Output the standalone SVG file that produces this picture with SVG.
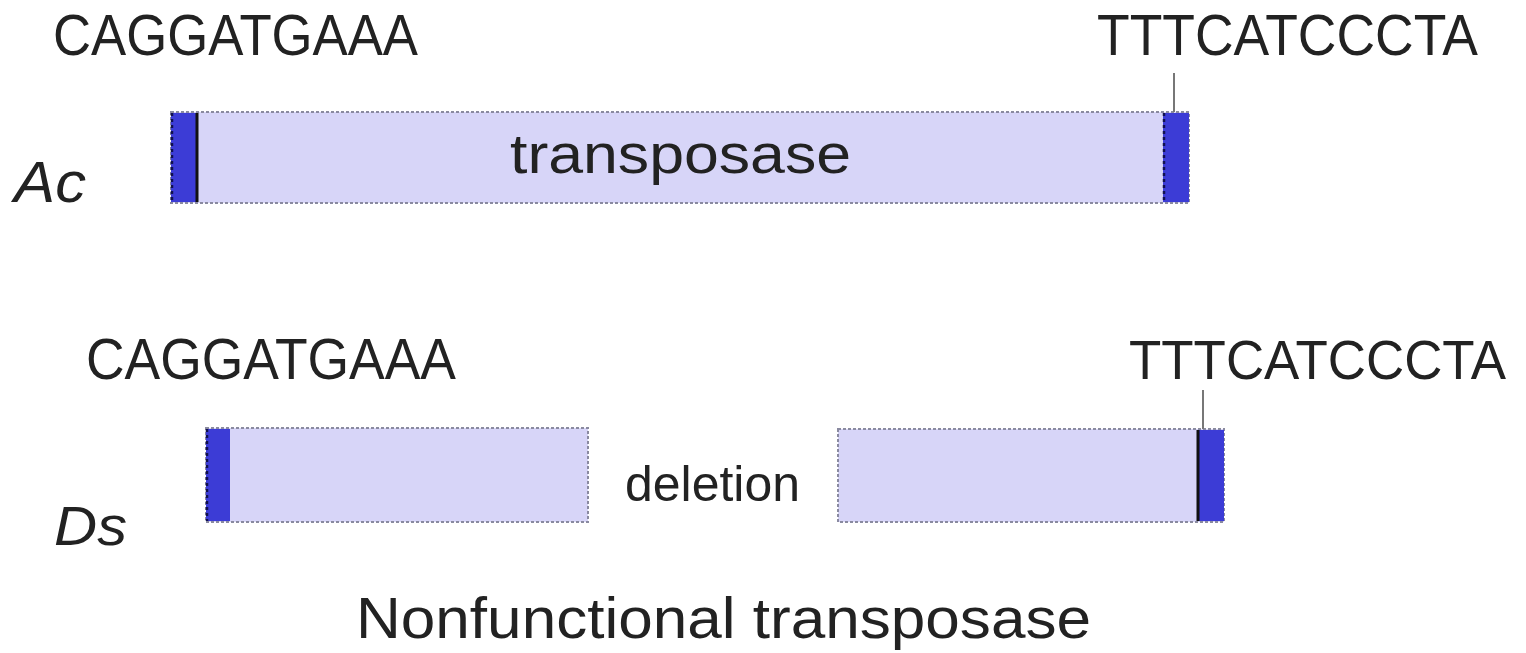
<svg xmlns="http://www.w3.org/2000/svg" width="1526" height="653" viewBox="0 0 1526 653">
<style>
.t{font-family:"Liberation Sans",Arial,sans-serif;fill:#222}
.i{font-style:italic}
.box{fill:#d7d5f8;stroke:#8a8aa0;stroke-width:2;stroke-dasharray:3 2}
.ter{fill:#3c3cd6}
.edge{stroke:#101050;stroke-width:2.5;stroke-dasharray:3 3}
.solid{stroke:#111;stroke-width:3}
.tick{stroke:#777;stroke-width:2}
</style>
<rect width="1526" height="653" fill="#fff"/>
<g id="Ac">
<text class="t i" x="14" y="202" font-size="58" textLength="72" lengthAdjust="spacingAndGlyphs">Ac</text>
<rect class="box" x="171" y="112" width="1018" height="91"/>
<rect class="ter" x="171" y="113" width="27" height="89"/>
<line class="edge" x1="172" y1="113" x2="172" y2="202"/>
<line class="solid" x1="197" y1="113" x2="197" y2="202"/>
<rect class="ter" x="1163" y="113" width="26" height="89"/>
<line class="edge" x1="1164" y1="113" x2="1164" y2="202"/>
<text class="t" x="510" y="173" font-size="56" textLength="341" lengthAdjust="spacingAndGlyphs">transposase</text>
<text class="t" x="53" y="55" font-size="57" textLength="365" lengthAdjust="spacingAndGlyphs">CAGGATGAAA</text>
<text class="t" x="1097" y="55" font-size="57" textLength="381" lengthAdjust="spacingAndGlyphs">TTTCATCCCTA</text>
</g>
<g id="Ds">
<text class="t i" x="54" y="545" font-size="56" textLength="73" lengthAdjust="spacingAndGlyphs">Ds</text>
<rect class="box" x="206" y="428" width="382" height="94"/>
<rect class="ter" x="206" y="429" width="24" height="92"/>
<line class="edge" x1="207" y1="429" x2="207" y2="521"/>
<rect class="box" x="838" y="429" width="386" height="93"/>
<rect class="ter" x="1198" y="430" width="26" height="91"/>
<line class="solid" x1="1198" y1="430" x2="1198" y2="521"/>
<text class="t" x="625" y="501" font-size="50" textLength="175" lengthAdjust="spacingAndGlyphs">deletion</text>
<text class="t" x="86" y="379" font-size="57" textLength="370" lengthAdjust="spacingAndGlyphs">CAGGATGAAA</text>
<text class="t" x="1129" y="379" font-size="56" textLength="377" lengthAdjust="spacingAndGlyphs">TTTCATCCCTA</text>
<text class="t" x="356" y="638" font-size="58" textLength="735" lengthAdjust="spacingAndGlyphs">Nonfunctional transposase</text>
</g>
<g id="connectors">
<line class="tick" x1="1174" y1="73" x2="1174" y2="112"/>
<line class="tick" x1="1203" y1="390" x2="1203" y2="429"/>
</g>
</svg>
